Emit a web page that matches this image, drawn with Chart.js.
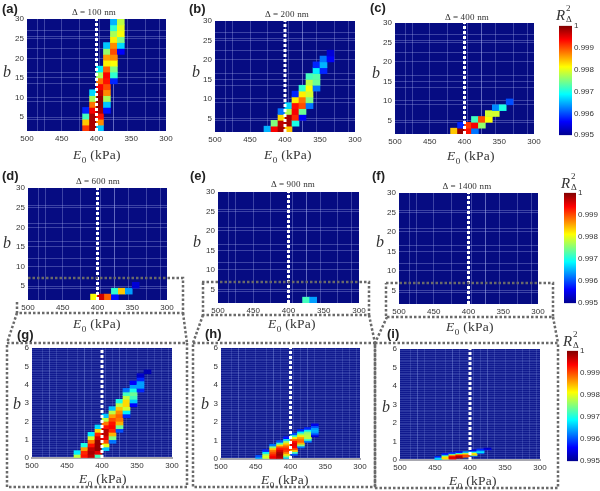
<!DOCTYPE html>
<html><head><meta charset="utf-8">
<script src="https://cdn.jsdelivr.net/npm/chart.js@4"></script>
<style>
html,body{margin:0;padding:0;background:#fff}
#page{position:relative;width:600px;height:491px;overflow:hidden}
canvas{position:absolute}
.t{position:absolute;transform:translate(-50%,-50%);white-space:nowrap;color:#222;font-family:"Liberation Serif",serif}
.tag{font:bold 13px "Liberation Sans",sans-serif;color:#222;transform:translate(0,-50%)}
.delta{font-size:9px;letter-spacing:.2px;color:#333}
.ax{font-size:13.5px;letter-spacing:.3px;color:#333}
.ax sub{font-size:9px;line-height:0}
.b{font-size:16px;font-style:italic;color:#333}
.r{font-size:15px;font-style:italic;color:#333}
.ss{display:inline-block;position:relative;width:9px;height:10px;font-style:normal}
.ss span{position:absolute;left:1px;font-size:9px;line-height:9px}
.ss .u{top:-6px}.ss .d{top:5px}
svg{position:absolute;left:0;top:0;pointer-events:none}
</style></head>
<body><div id="page">
<svg width="600" height="491" fill="none" stroke="#6a6a6a" stroke-width="2.5" stroke-dasharray="2.5 2">
<path d="M28 278H183V313H17V300"/><path d="M183 313L187 343"/><path d="M17 313L7 343"/><path d="M7 343H187V487H7Z"/>
<path d="M202 282H369V315H203V282"/><path d="M203 315L193 343"/><path d="M369 315L375 343"/><path d="M193 343H375V487H193Z"/>
<path d="M386 283H553V317H386V283"/><path d="M387 317L375 343"/><path d="M553 317L558 343"/><path d="M375 343H558V488H375Z"/>
</svg>
</div>
<script>
// tick labels
const energyTicks=[500,450,400,350,300];
const bTicksTop=[30,25,20,15,10,5];
const bTicksLow=[6,5,4,3,2,1,0];
const colorbarTicks=[1,0.999,0.998,0.997,0.996,0.995];
const colorbarRange=[0.995,1];
const trueModulus=400;
// column format: [E0 centre, lowest b of first cell, [R2 values going up]]
const columnsA=[
[415,1.5,[.9991,.9984,.9972,.9958]],
[405,1.5,[.9998,.9998,.9998,.9994,.9988,.9977,.9967]],
[395,1.5,[.9966,.9987,.9993,.9998,.9999,.9999,.9997,.9994,.9988,.9977,.9968]],
[385,6,[.9957,.9966,.9977,.9987,.9990,.9993,.9994,.9989,.9982,.9986,.9976,.9966]],
[375,13.5,[.9958,.9971,.9975,.9981,.9987,.9990,.9987,.9982,.9977,.9971,.9965]],
[365,21,[.9956,.9967,.9975,.9981,.9980,.9978]]];
const columnsB=[
[425,1.5,[.9965]],
[415,1.5,[.9994,.9975]],
[405,1.5,[.9998,.9997,.9983,.9962]],
[395,1.5,[.9984,.9998,.9998,.9977,.9967]],
[385,3,[.9970,.9992,.9994,.9993,.9982,.9958]],
[375,4.5,[.9956,.9974,.9990,.9988,.9982,.9971]],
[365,7.5,[.9962,.9975,.9979,.9981,.9978,.9972]],
[355,12,[.9962,.9974,.9973,.9968,.9958]],
[345,16.5,[.9958,.9965,.9962]],
[335,19.5,[.9956,.9954]]];
const columnsC=[
[415,1.5,[.9984]],
[405,1.5,[.9999,.9958]],
[395,1.5,[.9993,.9991]],
[385,1.5,[.9962,.9994,.9972]],
[375,3,[.9976,.9990]],
[365,4.5,[.9981,.9979]],
[355,6,[.9979,.9963]],
[345,7.5,[.9970]],
[335,9,[.9960]]];
const columnsD=[
[405,1.5,[.9981]],
[395,1.5,[.9996]],
[385,1.5,[.9989]],
[375,1.5,[.9957,.9971]],
[365,3,[.9984]],
[355,3,[.9964]],
[345,4.5,[.9954]]];
const columnsE=[[375,1.5,[.9972]],[365,1.5,[.9964]]];
const columnsF=[];
const columnsG=[
[435,0,[.9978,.9968]],
[425,0,[.9993,.9992,.9986,.9970]],
[415,0,[.9997,.9998,.9997,.9993,.9988,.9979,.9968]],
[405,0,[.9972,.9995,.9999,.9999,.9999,.9996,.9992,.9983,.9967]],
[395,.4,[.9966,.9980,.9990,.9995,.9997,.9997,.9993,.9988,.9978,.9966]],
[385,.8,[.9962,.9975,.9985,.9992,.9994,.9993,.9990,.9986,.9978,.9966]],
[375,1.4,[.9960,.9974,.9985,.9988,.9989,.9987,.9984,.9978,.9970]],
[365,2.2,[.9958,.9968,.9979,.9983,.9983,.9978,.9972,.9962]],
[355,2.8,[.9956,.9966,.9972,.9974,.9970,.9964,.9956]],
[345,3.6,[.9958,.9964,.9964,.9958,.9953]],
[335,4.6,[.9952]]];
const columnsH=[
[445,0,[.9965,.9960]],
[435,0,[.9978,.9980,.9976,.9968,.9958]],
[425,0,[.9995,.9994,.9992,.9990,.9988,.9984,.9975,.9962]],
[415,0,[.9997,.9998,.9999,.9998,.9996,.9993,.9990,.9983,.9972,.9960]],
[405,0,[.9966,.9975,.9983,.9988,.9991,.9992,.9990,.9987,.9983,.9976,.9967,.9957]],
[395,.2,[.9960,.9972,.9984,.9990,.9994,.9995,.9995,.9993,.9988,.9982,.9972,.9960]],
[385,.6,[.9962,.9975,.9985,.9989,.9988,.9986,.9982,.9976,.9968,.9958]],
[375,.9,[.9962,.9972,.9978,.9978,.9977,.9975,.9968,.9958]],
[365,1.2,[.9954,.9960,.9964,.9965,.9964,.9960,.9955]]];
const columnsI=[
[445,0,[.9965,.9968,.9965,.9958]],
[435,.05,[.9982,.9984,.9982,.9975,.9965,.9957]],
[425,.05,[.9994,.9996,.9995,.9992,.9985,.9972,.9958]],
[415,.1,[.9997,.9998,.9997,.9992,.9985,.9970,.9957]],
[405,.15,[.9988,.9991,.9990,.9985,.9978,.9965]],
[395,.2,[.9962,.9980,.9984,.9982,.9972,.9962,.9955]],
[385,.35,[.9962,.9968,.9966,.9962,.9958]],
[375,.55,[.9955,.9953]]];
// faint artefact lines of the original bitmap
const energyLinesTop=[490,480,450,420,380,370,350,340,320];
const bLinesA=[27,25.5,22.5,16.5,15,13.5,9,4.5];
const bLinesMid=[25.5,21,16.5,15,12,4.5];
const energyLinesLow=[490,480,470,460,450,440,430,420,410,390,380,370,360,350,340,330,320,310];
const bLinesLow=[];for(let i=1;i<60;i+=1)bLinesLow.push(i/10);

const jetStops=[[0,[0,0,143]],[.125,[0,0,255]],[.375,[0,255,255]],[.625,[255,255,0]],[.875,[255,0,0]],[1,[128,0,0]]];
function jet(v){
  const t=Math.min(1,Math.max(0,(v-colorbarRange[0])/(colorbarRange[1]-colorbarRange[0])));
  for(let i=1;i<jetStops.length;i++){
    if(t<=jetStops[i][0]){
      const [a,ca]=jetStops[i-1],[b,cb]=jetStops[i],f=(t-a)/(b-a);
      return `rgb(${ca.map((c,k)=>Math.round(c+(cb[k]-c)*f)).join(',')})`;
    }
  }
  return 'rgb(128,0,0)';
}
const page=document.getElementById('page');
function text(html,x,y,cls){const d=document.createElement('div');d.className='t '+cls;d.innerHTML=html;d.style.left=x+'px';d.style.top=y+'px';page.appendChild(d);}
const E0='<i>E</i><sub>0</sub> (kPa)';
const R2='<i>R</i><span class="ss"><span class="u">2</span><span class="d">Δ</span></span>';

const areaFill={id:'areaFill',beforeDraw(c,a,o){const r=c.chartArea;c.ctx.fillStyle=o.color;c.ctx.fillRect(r.left,r.top,r.width,r.height);}};

const panels=[
{tag:'(a)',tagXY:[2,8],title:'Δ = 100 nm',titleXY:[94,12],bXY:[7,72],eXY:[97,155],box:[27,19,166,131],cols:columnsA,step:1.5},
{tag:'(b)',tagXY:[189,8],title:'Δ = 200 nm',titleXY:[287,14],bXY:[196,72],eXY:[288,155],box:[215,21,355,132],cols:columnsB,step:1.5},
{tag:'(c)',tagXY:[370,7],title:'Δ = 400 nm',titleXY:[467,17],bXY:[376,73],eXY:[471,156],box:[395,23,534,134],cols:columnsC,step:1.5},
{tag:'(d)',tagXY:[2,175],title:'Δ = 600 nm',titleXY:[98,181],bXY:[7,243],eXY:[97,324],box:[28,188,167,300],cols:columnsD,step:1.5,mid:true},
{tag:'(e)',tagXY:[190,175],title:'Δ = 900 nm',titleXY:[293,184],bXY:[197,242],eXY:[292,324],box:[218,192,359,303],cols:columnsE,step:1.5,mid:true},
{tag:'(f)',tagXY:[372,175],title:'Δ = 1400 nm',titleXY:[467,186],bXY:[380,242],eXY:[470,327],box:[399,193,538,304],cols:columnsF,step:1.5,mid:true},
{tag:'(g)',tagXY:[17,334],bXY:[17,404],eXY:[103,479],box:[32,348,172,458],cols:columnsG,step:.2,low:true},
{tag:'(h)',tagXY:[205,333],bXY:[205,404],eXY:[285,480],box:[221,348,360,459],cols:columnsH,step:.1,low:true},
{tag:'(i)',tagXY:[387,333],bXY:[386,407],eXY:[473,481],box:[400,349,540,460],cols:columnsI,step:.05,low:true}];

const LEFT=30,TOP=8,RIGHT=14,BOTTOM=22;
const tickFont={family:'"Liberation Sans"',size:8};
panels.forEach(p=>{
  const [x0,y0,x1,y1]=p.box,w=x1-x0,h=y1-y0;
  const bMin=p.low?0:1.5,bMax=p.low?6:30;
  const bLabels=p.low?bTicksLow:bTicksTop;
  const bLines=p.low?bLinesLow:(p.mid?bLinesMid:bLinesA);
  const eLines=p.low?energyLinesLow:energyLinesTop;
  const cells=[];
  p.cols.forEach(([e,start,vals])=>vals.forEach((v,i)=>cells.push({x:e,y:[start+i*p.step,start+(i+1)*p.step],v})));
  const cv=document.createElement('canvas');
  cv.width=w+LEFT+RIGHT;cv.height=h+TOP+BOTTOM;
  cv.style.left=(x0-LEFT)+'px';cv.style.top=(y0-TOP)+'px';
  page.insertBefore(cv,page.firstChild);
  const grid=p.low?'rgba(150,170,240,.2)':'rgba(175,185,240,.32)';
  new Chart(cv,{
    type:'bar',
    data:{datasets:[
      {type:'line',data:[{x:trueModulus,y:bMin},{x:trueModulus,y:bMax}],borderColor:'#fff',borderWidth:3,borderDash:[3,2],pointRadius:0,order:0},
      {data:cells,backgroundColor:c=>c.raw?jet(c.raw.v):'#000',borderWidth:0,barThickness:w/20,grouped:false,order:1}
    ]},
    options:{
      responsive:false,animation:false,events:[],
      layout:{padding:{top:TOP,right:RIGHT,left:0,bottom:0}},
      plugins:{legend:{display:false},tooltip:{enabled:false},areaFill:{color:p.low?'#101a8e':'#060c82'}},
      scales:{
        x:{type:'linear',reverse:true,min:300,max:500,offset:false,
          afterBuildTicks:a=>{a.ticks=[...new Set([...energyTicks,...eLines])].map(value=>({value}));},
          afterFit:a=>{a.height=BOTTOM;},
          ticks:{autoSkip:false,maxRotation:0,padding:3,color:'#333',font:tickFont,callback:v=>energyTicks.includes(v)?String(v):''},
          grid:{drawTicks:false,color:c=>(c.tick&&(c.tick.value===500||c.tick.value===300))?'rgba(0,0,0,0)':grid,lineWidth:1},
          border:{display:!!p.low,color:'#a8a8b0',width:2}},
        y:{type:'linear',min:bMin,max:bMax,
          afterBuildTicks:a=>{a.ticks=[...new Set([...bLabels,...bLines])].map(value=>({value}));},
          afterFit:a=>{a.width=LEFT;},
          ticks:{autoSkip:false,padding:3,color:'#333',font:tickFont,callback:v=>bLabels.includes(v)?String(v):''},
          grid:{drawTicks:false,color:c=>(c.tick&&(c.tick.value===bMin||c.tick.value===bMax))?'rgba(0,0,0,0)':grid,lineWidth:1},
          border:{display:false}}
      }
    },
    plugins:[areaFill]
  });
  text(p.tag,p.tagXY[0],p.tagXY[1],'tag');
  if(p.title)text(p.title,p.titleXY[0],p.titleXY[1],'delta');
  text('b',p.bXY[0],p.bXY[1],'b');
  text(E0,p.eXY[0],p.eXY[1],'ax');
});

const colorbars=[
 {box:[559,25,572,136],labelXY:[565,15]},
 {box:[564,192,576,304],labelXY:[570,183]},
 {box:[567,350,578,462],labelXY:[572,341]}];
colorbars.forEach(cb=>{
  const [x0,y0,x1,y1]=cb.box,w=x1-x0,h=y1-y0,PAD=6,AX=26;
  const cv=document.createElement('canvas');
  cv.width=w+AX;cv.height=h+2*PAD;
  cv.style.left=x0+'px';cv.style.top=(y0-PAD)+'px';
  page.insertBefore(cv,page.firstChild);
  new Chart(cv,{
    type:'bar',
    data:{labels:['R2'],datasets:[{data:[colorbarRange],barPercentage:1,categoryPercentage:1,borderWidth:0,
      backgroundColor:c=>{
        const a=c.chart.chartArea;if(!a)return '#000';
        const g=c.chart.ctx.createLinearGradient(0,a.bottom,0,a.top);
        jetStops.forEach(([t,rgb])=>g.addColorStop(t,`rgb(${rgb.join(',')})`));
        return g;
      }}]},
    options:{responsive:false,animation:false,events:[],
      layout:{padding:{top:PAD,bottom:PAD}},
      plugins:{legend:{display:false},tooltip:{enabled:false}},
      scales:{
        x:{display:false},
        y:{position:'right',min:colorbarRange[0],max:colorbarRange[1],
          afterBuildTicks:a=>{a.ticks=colorbarTicks.map(value=>({value}));},
          afterFit:a=>{a.width=AX;},
          grid:{display:false,drawTicks:false,tickLength:0},border:{display:false},
          ticks:{padding:2,color:'#333',font:tickFont,callback:v=>String(v)}}
      }}
  });
  text(R2,cb.labelXY[0],cb.labelXY[1],'r');
});
</script></body></html>
